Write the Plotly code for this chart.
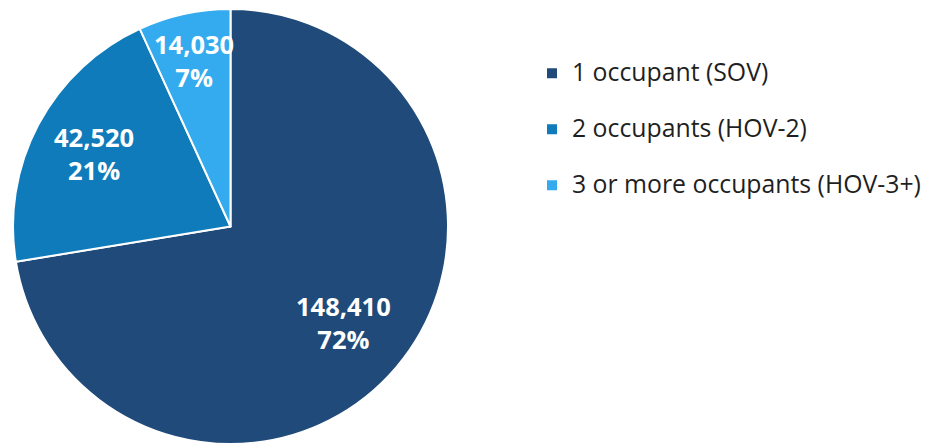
import math
import plotly.graph_objects as go

categories = ["1 occupant (SOV)", "2 occupants (HOV-2)", "3 or more occupants (HOV-3+)"]
values = [148410, 42520, 14030]
colors = ["#1F4A7A", "#0F7BBA", "#33ABEE"]
label_r = [0.68, 0.71, 0.78]  # radial placement of slice labels (fraction of radius)

W, H = 935, 448
# pie geometry in figure pixels (page has an 8px body offset)
CX, CY, R = 222.5, 218.5, 217.5

fig = go.Figure(go.Pie(
    labels=["<span style='font-size:24.8px'>" + c + "</span><br>&nbsp;" for c in categories],
    values=values,
    sort=False,
    direction="clockwise",
    rotation=0,
    marker=dict(colors=colors, line=dict(color="white", width=2)),
    textinfo="none",
    hoverinfo="skip",
    domain=dict(x=[(CX - R) / W, (CX + R) / W], y=[1 - (CY + R) / H, 1 - (CY - R) / H]),
))

total = sum(values)
cum = 0
for v, rf in zip(values, label_r):
    mid = (cum + v / 2) / total * 2 * math.pi
    cum += v
    dx = math.sin(mid) * rf * R
    dy = -math.cos(mid) * rf * R
    fig.add_annotation(
        x=(CX + dx) / W, y=1 - (CY + dy) / H, xref="paper", yref="paper",
        text=f"<b>{v:,}<br>{round(v / total * 100)}%</b>",
        showarrow=False, xanchor="center", yanchor="middle",
        font=dict(family="Open Sans", size=25.5, color="white"),
    )

fig.update_layout(
    width=W, height=H,
    margin=dict(l=0, r=0, t=0, b=0),
    paper_bgcolor="white",
    plot_bgcolor="white",
    showlegend=True,
    legend=dict(
        x=524 / W, y=1 - 45.5 / H, xanchor="left", yanchor="top",
        font=dict(family="Open Sans", size=20.4, color="#1f1f1f"),
        valign="top",
        bgcolor="rgba(0,0,0,0)",
    ),
)

fig.write_html("out.html")
